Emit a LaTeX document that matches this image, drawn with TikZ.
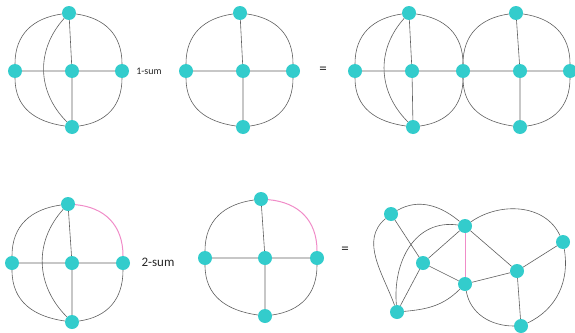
\documentclass[tikz,border=0pt]{standalone}
\usepackage{fontspec}
\setmainfont{Carlito}
\definecolor{vcol}{RGB}{51,204,204}
\definecolor{ecol}{RGB}{95,95,95}
\definecolor{pcol}{RGB}{240,140,200}
\begin{document}
\begin{tikzpicture}[x=1pt,y=-1pt,
  v/.style={circle,fill=vcol,inner sep=0pt,minimum size=14pt},
  e/.style={draw=ecol,line width=0.6pt},
  pe/.style={draw=pcol,line width=1pt},
  oc/.style={looseness=1.1},
  ic/.style={out=228,in=135,looseness=1.05},
  lbl/.style={inner sep=0pt,text=black!85}]
\useasboundingbox (0,0) rectangle (575,332);
% ---------- graph 1
\node[v] (a1) at (69,13) {};
\node[v] (a2) at (15,71) {};
\node[v] (a3) at (72,71) {};
\node[v] (a4) at (122,71) {};
\node[v] (a5) at (72,127) {};
\path[e] (a1)--(a3) (a2)--(a3) (a3)--(a4) (a3)--(a5);
\path[e,oc] (a1) to[out=188,in=90] (a2);
\path[e,oc] (a2) to[out=-90,in=172] (a5);
\path[e,oc] (a5) to[out=8,in=-90] (a4);
\path[e,oc] (a4) to[out=90,in=-8] (a1);
\path[e] (a1) to[ic] (a5);
\node[lbl,font=\fontsize{10}{12}\selectfont] (s1) at (149,71) {1-sum};
% ---------- graph 2
\node[v] (b1) at (240,13) {};
\node[v] (b2) at (186,71) {};
\node[v] (b3) at (243,71) {};
\node[v] (b4) at (293,71) {};
\node[v] (b5) at (243,127) {};
\path[e] (b1)--(b3) (b2)--(b3) (b3)--(b4) (b3)--(b5);
\path[e,oc] (b1) to[out=188,in=90] (b2);
\path[e,oc] (b2) to[out=-90,in=172] (b5);
\path[e,oc] (b5) to[out=8,in=-90] (b4);
\path[e,oc] (b4) to[out=90,in=-8] (b1);
\node[lbl,font=\fontsize{15}{17}\selectfont] (eq1) at (323,70) {=};
% ---------- graph 3
\node[v] (c1) at (409,13) {};
\node[v] (c2) at (355,71) {};
\node[v] (c3) at (412,71) {};
\node[v] (c4) at (463,71) {};
\node[v] (c5) at (413,127) {};
\node[v] (c6) at (516,13) {};
\node[v] (c7) at (520,71) {};
\node[v] (c8) at (570,71) {};
\node[v] (c9) at (520,127) {};
\path[e] (c1)--(c3) (c2)--(c3) (c3)--(c4) (c3)--(c5) (c4)--(c7) (c6)--(c7) (c7)--(c8) (c7)--(c9);
\path[e,oc] (c1) to[out=188,in=90] (c2);
\path[e,oc] (c2) to[out=-90,in=172] (c5);
\path[e,oc] (c5) to[out=8,in=-90] (c4);
\path[e,oc] (c4) to[out=90,in=-8] (c1);
\path[e] (c1) to[ic] (c5);
\path[e,oc] (c6) to[out=188,in=90] (c4);
\path[e,oc] (c4) to[out=-90,in=172] (c9);
\path[e,oc] (c9) to[out=8,in=-90] (c8);
\path[e,oc] (c8) to[out=90,in=-8] (c6);
% ---------- graph 4
\node[v] (d1) at (68,204) {};
\node[v] (d2) at (12,263) {};
\node[v] (d3) at (72,263) {};
\node[v] (d4) at (123,263) {};
\node[v] (d5) at (72,322) {};
\path[e] (d1)--(d3) (d2)--(d3) (d3)--(d4) (d3)--(d5);
\path[e,oc] (d1) to[out=188,in=90] (d2);
\path[e,oc] (d2) to[out=-90,in=172] (d5);
\path[e,oc] (d5) to[out=8,in=-90] (d4);
\path[pe,oc] (d4) to[out=90,in=-5] (d1);
\path[e] (d1) to[ic] (d5);
\node[lbl,font=\fontsize{13}{15}\selectfont] (s2) at (158,262) {2-sum};
% ---------- graph 5
\node[v] (f1) at (261,199) {};
\node[v] (f2) at (205,258) {};
\node[v] (f3) at (265,258) {};
\node[v] (f4) at (317,258) {};
\node[v] (f5) at (265,316) {};
\path[e] (f1)--(f3) (f2)--(f3) (f3)--(f4) (f3)--(f5);
\path[e,oc] (f1) to[out=188,in=90] (f2);
\path[e,oc] (f2) to[out=-90,in=172] (f5);
\path[e,oc] (f5) to[out=8,in=-90] (f4);
\path[pe,oc] (f4) to[out=90,in=-5] (f1);
\node[lbl,font=\fontsize{15}{17}\selectfont] (eq2) at (345,250) {=};
% ---------- graph 6
\node[v] (gA) at (391,214) {};
\node[v] (gB) at (465,226) {};
\node[v] (gC) at (423,263) {};
\node[v] (gD) at (465,284) {};
\node[v] (gE) at (517,271) {};
\node[v] (gF) at (563,242) {};
\node[v] (gG) at (397,312) {};
\node[v] (gH) at (521,326) {};
\path[e] (gA)--(gC) (gC)--(gB) (gC)--(gD) (gC)--(gG) (gB)--(gE) (gD)--(gE) (gE)--(gF) (gE)--(gH);
\path[pe] (gB)--(gD);
\path[e] (gA) to[out=30,in=140] (gB);
\path[e] (gA) to[out=220,in=110] (gG);
\path[e] (gB) to[out=172,in=95,looseness=1.1] (gG);
\path[e] (gG) to[out=5,in=225] (gD);
\path[e] (gB) to[out=35,in=115] (gF);
\path[e] (gF) to[out=-80,in=25] (gH);
\path[e] (gD) to[out=-80,in=180] (gH);
\end{tikzpicture}
\end{document}
